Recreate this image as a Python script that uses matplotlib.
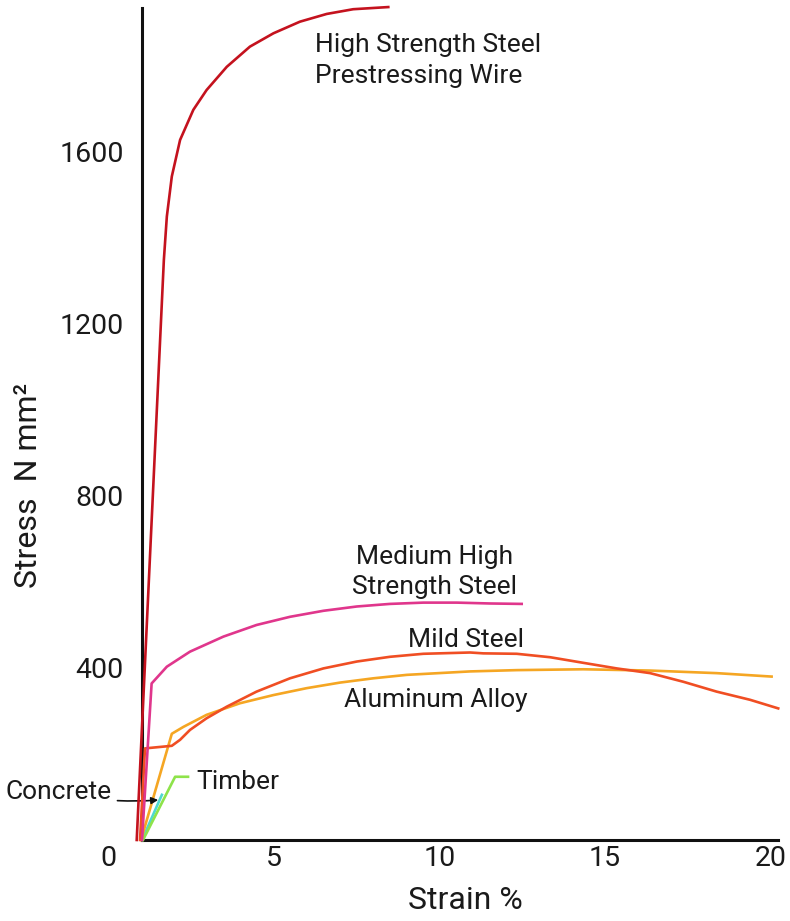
import matplotlib.pyplot as plt

plt.rcParams['font.family'] = ['Roboto', 'DejaVu Sans']

# stress-strain curves (strain %, stress N/mm2)
hss_x = [0.85, 1.64, 1.67, 1.76, 1.91, 2.16, 2.56, 2.96, 3.57, 4.27, 4.98, 5.78, 6.59, 7.39, 8.45]
hss_y = [0, 1300, 1349, 1450, 1543, 1628, 1698, 1744, 1798, 1845, 1876, 1903, 1921, 1932, 1937]

med_x = [1.01, 1.30, 1.76, 2.46, 3.47, 4.47, 5.48, 6.49, 7.50, 8.50, 9.51, 10.52, 11.52, 12.48]
med_y = [0, 364, 403, 438, 473, 500, 519, 533, 543, 549, 552, 552, 550, 549]

mild_x = [0.95, 1.10, 1.91, 2.16, 2.46, 2.96, 3.57, 4.47, 5.48, 6.49, 7.50, 8.50, 9.51, 10.92,
          11.32, 12.33, 13.34, 14.34, 15.35, 16.36, 17.36, 18.37, 19.38, 20.23]
mild_y = [0, 213, 219, 233, 256, 283, 310, 345, 376, 399, 415, 426, 433, 436,
          434, 433, 425, 412, 399, 388, 368, 345, 326, 306]

alu_x = [0.98, 1.91, 2.26, 2.96, 3.97, 4.98, 5.98, 6.99, 8.00, 9.01, 10.92, 12.33, 14.34,
         16.36, 18.37, 20.03]
alu_y = [0, 247, 263, 291, 318, 337, 353, 366, 376, 384, 392, 395, 397, 394, 388, 380]

timber_x = [1.04, 2.01, 2.40]
timber_y = [0, 147, 147]

concrete_x = [1.01, 1.61]
concrete_y = [0, 105]

xticks = [0, 5, 10, 15, 20]
yticks = [400, 800, 1200, 1600]

fig = plt.figure(figsize=(7.9, 9.21), dpi=100)
ax = fig.add_axes([0.1165, 0.0833, 0.8799, 0.9151])

lw = 1.9
ax.plot(concrete_x, concrete_y, color='#4fd8d0', lw=lw, zorder=3)
ax.plot(timber_x, timber_y, color='#8ee34a', lw=lw, zorder=3)
ax.plot(alu_x, alu_y, color='#f5a623', lw=lw, zorder=3)
ax.plot(mild_x, mild_y, color='#f04e23', lw=lw, zorder=4)
ax.plot(med_x, med_y, color='#e0368c', lw=lw, zorder=4)
ax.plot(hss_x, hss_y, color='#c4121e', lw=lw, zorder=5)

ax.set_xlim(-0.5, 20.5)
ax.set_ylim(-10, 1950)

for s in ['top', 'right']:
    ax.spines[s].set_visible(False)
ax.spines['left'].set_position(('data', 1))
ax.spines['bottom'].set_position(('data', 0))
ax.spines['left'].set_bounds(0, 1935)
ax.spines['bottom'].set_bounds(1, 20.22)
ax.spines['left'].set_linewidth(2.2)
ax.spines['bottom'].set_linewidth(2.2)
ax.spines['left'].set_color('#111111')
ax.spines['bottom'].set_color('#111111')

ax.set_xticks(xticks)
ax.set_yticks(yticks)
ax.tick_params(axis='x', length=0, pad=3.6, labelsize=20.5, labelcolor='#1a1a1a')
ax.tick_params(axis='y', length=0, pad=13, labelsize=20.5, labelcolor='#1a1a1a')

ax.set_xlabel('Strain %', fontsize=23, color='#1a1a1a', va='center')
ax.xaxis.set_label_coords(0.5365, -0.067)
ax.set_ylabel('Stress  N mm²', fontsize=23, color='#1a1a1a', va='center')
ax.yaxis.set_label_coords(-0.092, 0.4263)

fs = 19
tc = '#1a1a1a'
ax.text(6.24, 1833, 'High Strength Steel', fontsize=fs, color=tc, ha='left', va='baseline')
ax.text(6.24, 1760, 'Prestressing Wire', fontsize=fs, color=tc, ha='left', va='baseline')
ax.text(9.85, 642, 'Medium High', fontsize=fs, color=tc, ha='center', va='baseline')
ax.text(9.85, 572, 'Strength Steel', fontsize=fs, color=tc, ha='center', va='baseline')
ax.text(10.80, 449, 'Mild Steel', fontsize=fs, color=tc, ha='center', va='baseline')
ax.text(9.90, 309, 'Aluminum Alloy', fontsize=fs, color=tc, ha='center', va='baseline')
ax.text(2.64, 119, 'Timber', fontsize=fs, color=tc, ha='left', va='baseline')
ax.annotate('Concrete', xy=(1.50, 93), xytext=(0.10, 95), fontsize=fs, color=tc,
            ha='right', va='baseline',
            arrowprops=dict(arrowstyle='-|>', color='#111111', lw=1.2,
                            mutation_scale=10, shrinkA=2, shrinkB=0,
                            connectionstyle='arc3,rad=0.08'))

fig.savefig('out.png', dpi=100)
